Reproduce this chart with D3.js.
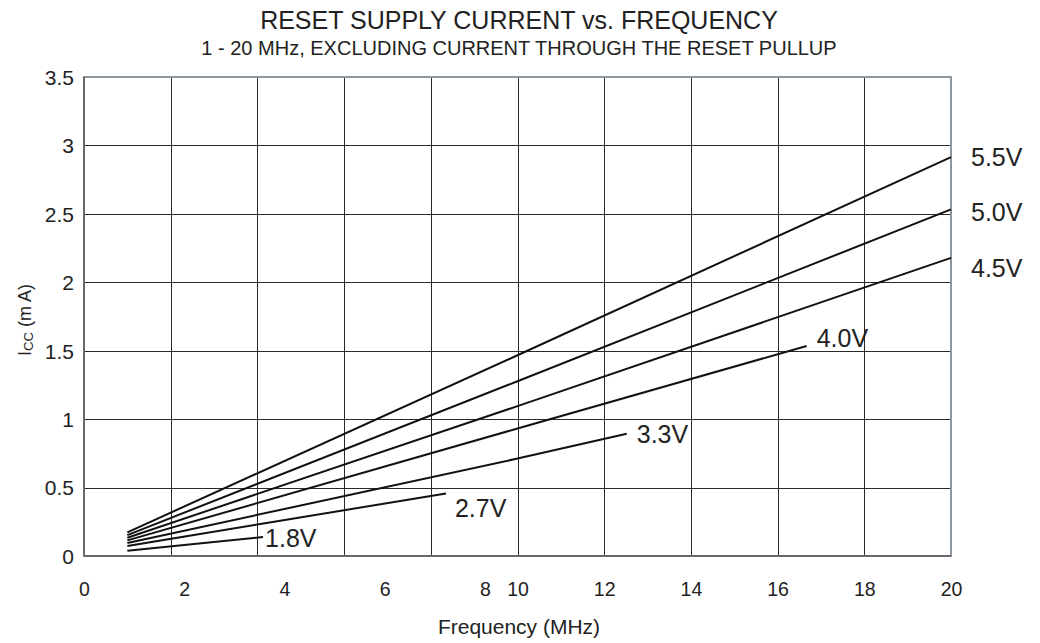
<!DOCTYPE html>
<html>
<head>
<meta charset="utf-8">
<script src="https://cdn.jsdelivr.net/npm/d3@7"></script>
<style>
  html, body { margin: 0; padding: 0; background: #fff; }
  svg { display: block; font-family: "Liberation Sans", Arial, Helvetica, sans-serif; }
</style>
</head>
<body>
<svg id="chart" width="1040" height="643"></svg>
<script>
// ---- data ----
const titleText = "RESET SUPPLY CURRENT vs. FREQUENCY";
const subtitleText = "1 - 20 MHz, EXCLUDING CURRENT THROUGH THE RESET PULLUP";
const xTitle = "Frequency (MHz)";
const frequencyTicks = [0, 2, 4, 6, 8, 10, 12, 14, 16, 18, 20];
const currentTicks = [0, 0.5, 1, 1.5, 2, 2.5, 3, 3.5];
const currentTickLabels = ["0", "0.5", "1", "1.5", "2", "2.5", "3", "3.5"];

const seriesNames = ["5.5V", "5.0V", "4.5V", "4.0V", "3.3V", "2.7V", "1.8V"];
const freq55 = [1, 10, 20];    const icc55 = [0.173, 1.467, 2.915];
const freq50 = [1, 10, 20];    const icc50 = [0.153, 1.277, 2.533];
const freq45 = [1, 10, 20];    const icc45 = [0.133, 1.095, 2.178];
const freq40 = [1, 10, 16.67]; const icc40 = [0.114, 0.932, 1.535];
const freq33 = [1, 10, 12.52]; const icc33 = [0.095, 0.712, 0.893];
const freq27 = [1, 4, 8.35];   const icc27 = [0.073, 0.230, 0.457];
const freq18 = [1, 4.13];      const icc18 = [0.039, 0.139];

const seriesFreq = [freq55, freq50, freq45, freq40, freq33, freq27, freq18];
const seriesIcc = [icc55, icc50, icc45, icc40, icc33, icc27, icc18];

// ---- layout (not data) ----
const plot = { left: 84, right: 951, top: 77, bottom: 556 };
const labelOffset = {
  "5.5V": [20, 0], "5.0V": [20, 3], "4.5V": [20, 10], "4.0V": [10, -8],
  "3.3V": [10, 0], "2.7V": [9, 15], "1.8V": [2, 1]
};

const svg = d3.select("#chart");
const x = d3.scaleLinear().domain([0, 20]).range([plot.left, plot.right]);
const y = d3.scaleLinear().domain([0, 3.5]).range([plot.bottom, plot.top]);
// tick label placement as printed in the original (labels 0-8 are spread unevenly)
const xLabel = d3.scaleLinear().domain([0, 8, 10, 20])
  .range([x(0), x(0) + 0.925 * (x(10) - x(0)), x(10), x(20)]);

// grid
const grid = svg.append("g");
grid.selectAll("line.v").data(frequencyTicks.filter(d => d > 0 && d < 20)).join("line")
  .attr("x1", d => Math.round(x(d)) + 0.5).attr("x2", d => Math.round(x(d)) + 0.5)
  .attr("y1", plot.top).attr("y2", plot.bottom)
  .attr("stroke", "#2a2a2a").attr("stroke-width", 1);
grid.selectAll("line.h").data(currentTicks.filter(d => d > 0 && d < 3.5)).join("line")
  .attr("x1", plot.left).attr("x2", plot.right)
  .attr("y1", d => Math.round(y(d)) + 0.5).attr("y2", d => Math.round(y(d)) + 0.5)
  .attr("stroke", "#2a2a2a").attr("stroke-width", 1);

// frame
svg.append("rect")
  .attr("x", plot.left).attr("y", plot.top)
  .attr("width", plot.right - plot.left).attr("height", plot.bottom - plot.top)
  .attr("fill", "none").attr("stroke", "#8e969d").attr("stroke-width", 2);
svg.append("line").attr("x1", plot.left).attr("x2", plot.right)
  .attr("y1", plot.bottom).attr("y2", plot.bottom)
  .attr("stroke", "#666a6e").attr("stroke-width", 2);
svg.append("line").attr("x1", plot.left).attr("x2", plot.left)
  .attr("y1", plot.top).attr("y2", plot.bottom)
  .attr("stroke", "#666a6e").attr("stroke-width", 2);

// axes tick labels
const xAxis = d3.axisBottom(xLabel).tickValues(frequencyTicks).tickSize(0).tickPadding(0)
  .tickFormat(d3.format("d"));
const gx = svg.append("g").attr("transform", `translate(0,${plot.bottom + 40})`).call(xAxis);
gx.select(".domain").remove();
gx.selectAll("text").attr("font-size", 19.5).attr("fill", "#222")
  .attr("font-family", "Liberation Sans, Arial, sans-serif").attr("dy", "0");

const yAxis = d3.axisLeft(y).tickValues(currentTicks).tickSize(0).tickPadding(0)
  .tickFormat((d, i) => currentTickLabels[i]);
const gy = svg.append("g").attr("transform", `translate(${plot.left - 10},0)`).call(yAxis);
gy.select(".domain").remove();
gy.selectAll("text").attr("font-size", 21).attr("fill", "#222")
  .attr("font-family", "Liberation Sans, Arial, sans-serif").attr("dy", "0.35em");

// lines
const line = d3.line().x(d => x(d[0])).y(d => y(d[1]));
seriesNames.forEach((name, i) => {
  const pts = seriesFreq[i].map((f, j) => [f, seriesIcc[i][j]]);
  svg.append("path").datum(pts).attr("d", line)
    .attr("fill", "none").attr("stroke", "#111").attr("stroke-width", 2);
  const last = pts[pts.length - 1];
  const off = labelOffset[name];
  svg.append("text")
    .attr("x", x(last[0]) + off[0]).attr("y", y(last[1]) + off[1])
    .attr("dy", "0.35em").attr("font-size", 25).attr("fill", "#222")
    .text(name);
});

// titles
svg.append("text").attr("x", 519).attr("y", 29).attr("text-anchor", "middle")
  .attr("font-size", 25).attr("fill", "#222").text(titleText);
svg.append("text").attr("x", 519).attr("y", 55).attr("text-anchor", "middle")
  .attr("font-size", 20).attr("fill", "#222").text(subtitleText);
svg.append("text").attr("x", 519).attr("y", 634).attr("text-anchor", "middle")
  .attr("font-size", 21).attr("fill", "#222").text(xTitle);

// y title: I_CC (mA)
const yt = svg.append("text").attr("transform", "translate(31,320) rotate(-90)")
  .attr("text-anchor", "middle").attr("font-size", 18).attr("fill", "#222");
yt.append("tspan").text("I");
yt.append("tspan").attr("font-size", 13).attr("dy", 2).text("CC");
yt.append("tspan").attr("dy", -2).text(" (m A)");
</script>
</body>
</html>
